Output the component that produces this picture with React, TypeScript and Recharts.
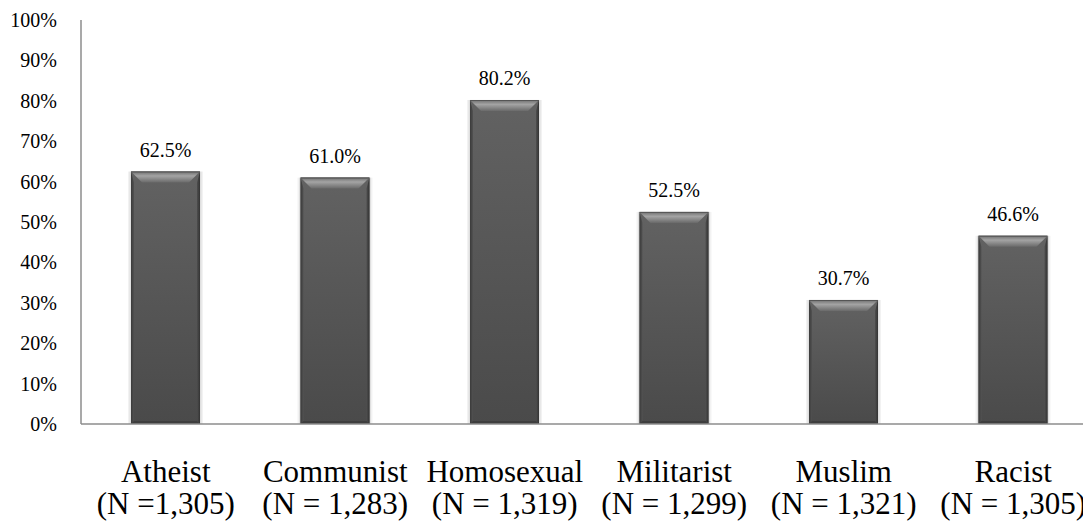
import React from 'react';
import { BarChart, Bar, XAxis, YAxis, LabelList } from 'recharts';

const categories = ['Atheist', 'Communist', 'Homosexual', 'Militarist', 'Muslim', 'Racist'];
const sampleSizes = ['(N =1,305)', '(N = 1,283)', '(N = 1,319)', '(N = 1,299)', '(N = 1,321)', '(N = 1,305)'];
const values = [62.5, 61.0, 80.2, 52.5, 30.7, 46.6];
const yTicks = [0, 10, 20, 30, 40, 50, 60, 70, 80, 90, 100];

const data = categories.map((c, i) => ({ name: c, n: sampleSizes[i], value: values[i] }));

const FONT = 'Liberation Serif';
const AXIS = '#8c8c8c';

const BevelBar = (props: any) => {
  const { x, y, width: w, height: h } = props;
  if (!w || !h || h <= 0) return null;
  const t = Math.min(11, h / 2);
  const s = 3;
  return (
    <g>
      <rect x={x - 3} y={y} width={w + 6} height={h} fill="#000" opacity={0.05} />
      <rect x={x - 1.5} y={y} width={w + 3} height={h} fill="#000" opacity={0.08} />
      <rect x={x} y={y} width={w} height={h} fill="url(#bodyGrad)" />
      <polygon points={`${x},${y} ${x + s},${y + t} ${x + s},${y + h - s} ${x},${y + h}`} fill="url(#leftGrad)" />
      <polygon points={`${x + w},${y} ${x + w - s},${y + t} ${x + w - s},${y + h - s} ${x + w},${y + h}`} fill="url(#rightGrad)" />
      <polygon points={`${x},${y + h} ${x + s},${y + h - s} ${x + w - s},${y + h - s} ${x + w},${y + h}`} fill="#3e3e3e" />
      <polygon points={`${x},${y} ${x + w},${y} ${x + w - t},${y + t} ${x + t},${y + t}`} fill="url(#topGrad)" />
      <line x1={x} y1={y + 0.5} x2={x + w} y2={y + 0.5} stroke="#555" strokeWidth={1} />
    </g>
  );
};

const XTick = (props: any) => {
  const { x, y, payload, index } = props;
  return (
    <g>
      <text x={x} y={y + 58} textAnchor="middle" fontFamily={FONT} style={{ fontFamily: FONT }} fontSize={31} fill="#000">
        {payload.value}
      </text>
      <text x={x} y={y + 90} textAnchor="middle" fontFamily={FONT} style={{ fontFamily: FONT }} fontSize={31} fill="#000">
        {sampleSizes[index]}
      </text>
    </g>
  );
};

const YTick = (props: any) => {
  const { x, y, payload } = props;
  return (
    <text x={x} y={y + 7} textAnchor="end" fontFamily={FONT} style={{ fontFamily: FONT }} fontSize={20} fill="#000">
      {`${payload.value}%`}
    </text>
  );
};

const ValueLabel = (props: any) => {
  const { x, y, width, value } = props;
  return (
    <text x={x + width / 2} y={y - 15} textAnchor="middle" fontFamily={FONT} style={{ fontFamily: FONT }} fontSize={20} fill="#000">
      {Number(value).toFixed(1)}%
    </text>
  );
};

export default function App() {
  return (
    <div style={{ width: 1083, height: 517 }}>
      <BarChart width={1083} height={517} data={data} margin={{ top: 12, right: 0, bottom: 0, left: 0 }}>
        <defs>
          <linearGradient id="bodyGrad" x1="0" y1="0" x2="0" y2="1">
            <stop offset="0%" stopColor="#626262" />
            <stop offset="100%" stopColor="#4a4a4a" />
          </linearGradient>
          <linearGradient id="leftGrad" x1="0" y1="0" x2="1" y2="0">
            <stop offset="0%" stopColor="#3a3a3a" />
            <stop offset="100%" stopColor="#525252" />
          </linearGradient>
          <linearGradient id="rightGrad" x1="1" y1="0" x2="0" y2="0">
            <stop offset="0%" stopColor="#333333" />
            <stop offset="100%" stopColor="#4e4e4e" />
          </linearGradient>
          <linearGradient id="topGrad" x1="0" y1="0" x2="0" y2="1">
            <stop offset="0%" stopColor="#6e6e6e" />
            <stop offset="40%" stopColor="#a4a4a4" />
            <stop offset="100%" stopColor="#6a6a6a" />
          </linearGradient>
        </defs>
        <XAxis
          dataKey="name"
          height={101}
          axisLine={{ stroke: AXIS, strokeWidth: 1.5 }}
          tickLine={false}
          tickSize={0}
          tickMargin={0}
          interval={0}
          padding={{ left: 0, right: -7 }}
          tick={<XTick />}
        />
        <YAxis
          width={73}
          domain={[0, 100]}
          ticks={yTicks}
          interval={0}
          axisLine={{ stroke: AXIS, strokeWidth: 1.5 }}
          tickLine={false}
          tickSize={0}
          tickMargin={24}
          tick={<YTick />}
        />
        <Bar dataKey="value" barSize={69} shape={<BevelBar />} isAnimationActive={false}>
          <LabelList dataKey="value" content={<ValueLabel />} />
        </Bar>
      </BarChart>
    </div>
  );
}
